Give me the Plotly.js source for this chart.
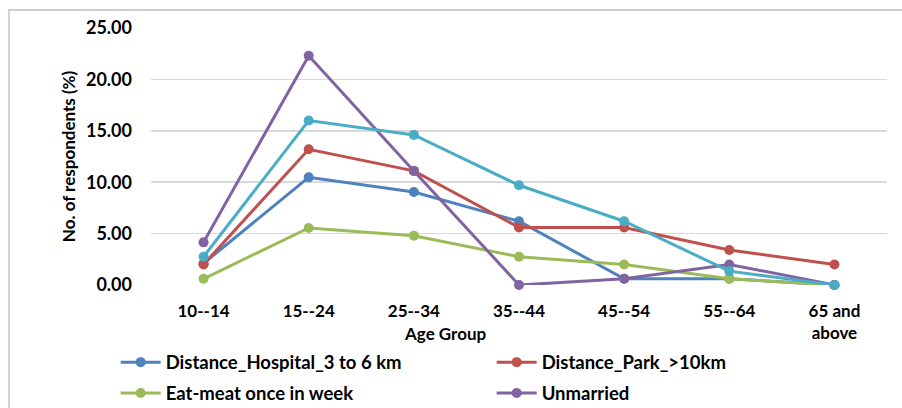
<!DOCTYPE html>
<html><head><meta charset="utf-8">
<script src="https://cdn.plot.ly/plotly-3.0.1.min.js"></script>
<style>html,body{margin:0;padding:0;background:#fff;}#chart{width:902px;height:408px;}</style>
</head><body><div id="chart"></div>
<script>
const categories = ["10--14","15--24","25--34","35--44","45--54","55--64","65 and<br>above"];
const hospital = [2.1, 10.47, 9.05, 6.2, 0.6, 0.6, 0.0];
const park = [2.0, 13.2, 11.1, 5.6, 5.6, 3.4, 2.0];
const eatMeat = [0.6, 5.55, 4.8, 2.75, 2.0, 0.6, 0.0];
const unmarried = [4.15, 22.3, 11.1, 0.0, 0.6, 2.0, 0.0];
const fifth = [2.75, 16.0, 14.6, 9.7, 6.2, 1.35, 0.0];
const yTicks = [0,5,10,15,20,25];

const FONT = "Lato, Carlito, Calibri, sans-serif";
function tr(name, y, color, legend, show){
  return {x: categories, y: y, name: name, type: "scatter", mode: "lines+markers",
    line: {color: color, width: 3}, marker: {color: color, size: 10},
    cliponaxis: false, legend: legend, showlegend: show};
}
const data = [
  tr("Distance_Hospital_3 to 6 km", hospital, "#4F81BD", "legend", true),
  tr("Distance_Park_>10km", park, "#C0504D", "legend", true),
  tr("Eat-meat once in week", eatMeat, "#9BBB59", "legend2", true),
  tr("Unmarried", unmarried, "#8064A2", "legend2", true),
  tr("Series 5", fifth, "#4BACC6", "legend", false)
];
const legStyle = {orientation: "h", xanchor: "left", yanchor: "middle",
  font: {family: FONT, size: 18.5, color: "#000", weight: "bold"}, entrywidth: 321, entrywidthmode: "pixels",
  bgcolor: "rgba(0,0,0,0)", itemwidth: 40};
const layout = {
  width: 902, height: 408,
  margin: {l: 151, r: 15, t: 28, b: 123, autoexpand: false},
  paper_bgcolor: "#fff", plot_bgcolor: "#fff",
  font: {family: FONT, color: "#000"},
  xaxis: {type: "category", showgrid: false, zeroline: false, showline: false,
    ticks: "", ticklabelstandoff: 14, tickfont: {family: FONT, size: 17, color: "#000", weight: "bold"},
    range: [-0.5, 6.5]},
  yaxis: {range: [0, 25], tickvals: yTicks, tickformat: ".2f", showgrid: true,
    gridcolor: "#d9d9d9", gridwidth: 1.5, zeroline: false, showline: false, ticks: "",
    ticklabelstandoff: 18,
    tickfont: {family: FONT, size: 18, color: "#000", weight: "bold"},
    title: {text: "No. of respondents (%)", font: {family: FONT, size: 17, color: "#000", weight: "bold"}, standoff: 6}},
  legend: Object.assign({}, legStyle, {x: -0.048, y: -0.302}),
  legend2: Object.assign({}, legStyle, {x: -0.048, y: -0.422}),
  annotations: [{text: "Age Group", xref: "paper", yref: "paper", x: 0.40, y: -0.187,
    xanchor: "center", yanchor: "middle", showarrow: false,
    font: {family: FONT, size: 17, color: "#000", weight: "bold"}}],
  shapes: [{type: "rect", xref: "paper", yref: "paper", x0: -0.193, x1: 1.3, y0: -0.8, y1: 1.07,
    line: {color: "#d0d0d0", width: 2}, fillcolor: "rgba(0,0,0,0)", layer: "below"}]
};
Plotly.newPlot("chart", data, layout, {displayModeBar: false, staticPlot: true});
</script>
</body></html>
